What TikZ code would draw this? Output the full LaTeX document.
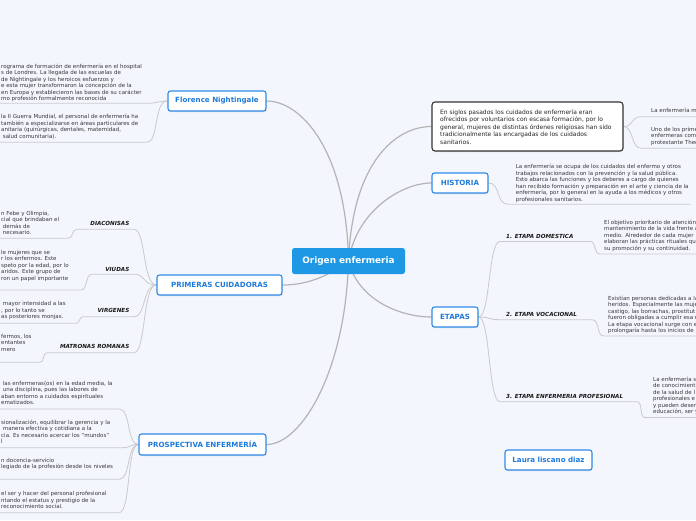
\documentclass[tikz,border=0pt]{standalone}
\usepackage{fontspec}
\setmainfont{DejaVu Sans}
\usetikzlibrary{shadows}
\definecolor{bgc}{HTML}{F3F6FD}
\definecolor{tblue}{HTML}{2E8BE8}
\definecolor{ttext}{HTML}{1E7AD9}
\definecolor{cblue}{HTML}{1E98E5}
\definecolor{lgray}{HTML}{B4B4B4}
\definecolor{sgray}{HTML}{CACACA}
\definecolor{tgray}{HTML}{383838}
\pgfdeclarelayer{bg}
\pgfdeclarelayer{background}
\pgfsetlayers{bg,background,main}
\begin{document}
\begin{tikzpicture}[x=1pt,y=-1pt,
  topic/.style={draw=tblue, line width=1.1pt, fill=white, rounded corners=2.5pt, text=ttext,
    font=\fontsize{7.1}{8}\selectfont\bfseries, inner sep=0pt, minimum height=20pt,
    drop shadow={opacity=0.22, shadow xshift=0.4pt, shadow yshift=-1.2pt}},
  central/.style={fill=cblue, text=white, rounded corners=2.5pt, font=\fontsize{8.9}{10}\selectfont\bfseries,
    minimum width=113pt, minimum height=26pt, inner sep=0pt},
  note/.style={draw=black!80, line width=1.1pt, fill=white, rounded corners=3pt, inner sep=0pt,
    drop shadow={opacity=0.22, shadow xshift=0.4pt, shadow yshift=-1.2pt}},
  txt/.style={anchor=north west, inner sep=0pt, align=left, font=\fontsize{5.5}{6.5}\selectfont, text=tgray},
  lbl/.style={inner sep=0pt, font=\fontsize{5.6}{6.5}\selectfont\bfseries\itshape, text=black!90},
  main/.style={draw=lgray, line width=1.2pt},
  sub/.style={draw=sgray, line width=0.8pt},
]
\useasboundingbox (0,0) rectangle (696,520);
\begin{pgfonlayer}{bg}
\fill[bgc] (0,0) rectangle (696,520);
\end{pgfonlayer}

% ---------- main nodes ----------
\node[central] (c) at (348.5,261) {Origen enfermeria};
\node[topic, minimum width=98pt] (fn) at (217,101) {Florence Nightingale};
\node[topic, minimum width=125pt] (pc) at (219.5,285) {PRIMERAS CUIDADORAS};
\node[topic, minimum width=127pt, minimum height=21pt] (pe) at (202.5,444.5) {PROSPECTIVA ENFERMERÍA};
\node[note, minimum width=191pt, minimum height=49pt] (bb) at (527.5,126.5) {};
\node[anchor=north west, inner sep=0pt, align=left, font=\fontsize{6.0}{7.5}\selectfont, text=black!85] (bbt) at (440,109)
  {En siglos pasados los cuidados de enfermería eran\\ ofrecidos por voluntarios con escasa formación, por lo\\ general, mujeres de distintas órdenes religiosas han sido\\ tradicionalmente las encargadas de los cuidados\\ sanitarios.};
\node[topic, minimum width=56pt] (h) at (460,183) {HISTORIA};
\node[topic, minimum width=46pt] (et) at (455,317) {ETAPAS};
\node[topic, minimum width=87pt] (lr) at (548.5,460) {Laura liscano diaz};

% ---------- Florence children ----------
\node[txt] (f1) at (1,63.4) {rograma de formación de enfermería en el hospital\\ s de Londres. La llegada de las escuelas de\\ de Nightingale y los heroicos esfuerzos y\\ e esta mujer transformaron la concepción de la\\ en Europa y establecieron las bases de su carácter\\ mo profesión formalmente reconocida};
\node[txt] (f2) at (1,114.1) {la II Guerra Mundial, el personal de enfermería ha\\ también a especializarse en áreas particulares de\\ anitaria (quirúrgicas, dentales, maternidad,\\ \ salud comunitaria).};
\coordinate (f1a) at (0,103.3); \coordinate (f1b) at (147,103.3);
\coordinate (f2a) at (0,142.3); \coordinate (f2b) at (147,142.3);

% ---------- Primeras cuidadoras children ----------
\node[lbl, anchor=base east] (ld) at (129.5,225.3) {DIACONISAS};
\node[lbl, anchor=base east] (lv) at (129.5,271) {VIUDAS};
\node[lbl, anchor=base east] (lg) at (129.5,312.7) {VIRGENES};
\node[lbl, anchor=base east] (lm) at (129.5,348.7) {MATRONAS ROMANAS};
\coordinate (lda) at (77,229.3);  \coordinate (ldb) at (134,229.3);
\coordinate (lva) at (92,274.2);  \coordinate (lvb) at (134,274.2);
\coordinate (lga) at (83,316.8);  \coordinate (lgb) at (134,316.8);
\coordinate (lma) at (47,352.8);  \coordinate (lmb) at (134,352.8);

\node[txt] (d1) at (1,210.7) {n Febe y Olimpia,\\ cial que brindaban el\\ \ demás de\\ \ necesario.};
\node[txt] (v1) at (1,249.7) {le mujeres que se\\ r los enfermos. Este\\ speto por la edad, por lo\\ aridos. Este grupo de\\ ron un papel importante};
\node[txt] (g1) at (1,301.4) {\ mayor intensidad a las\\ , por lo tanto se\\ as posteriores monjas.};
\node[txt] (m1) at (1,334.1) {fermos, los\\ entantes\\ mero};
\coordinate (d1a) at (0,238.3); \coordinate (d1b) at (68,238.3);
\coordinate (v1a) at (0,290);   \coordinate (v1b) at (81,290);
\coordinate (g1a) at (0,323.3); \coordinate (g1b) at (76,323.3);
\coordinate (m1a) at (0,362.3); \coordinate (m1b) at (40,362.3);

% ---------- Prospectiva children ----------
\node[txt] (p1) at (1,380.7) {\ las enfermeras(os) en la edad media, la\\ \ una disciplina, pues las labores de\\ aban entorno a cuidados espirituales\\ ematizados.};
\node[txt] (p2) at (1,419.7) {sionalización, equilibrar la gerencia y la\\ \ manera efectiva y cotidiana a la\\ cia. Es necesario acercar los "mundos"\\ l};
\node[txt] (p3) at (1,458.1) {n docencia-servicio\\ legiado de la profesión desde los niveles};
\node[txt] (p4) at (1,491.4) {el ser y hacer del personal profesional\\ ntando el estatus y prestigio de la\\ reconocimiento social.};
\coordinate (p1a) at (0,409);   \coordinate (p1b) at (119,409);
\coordinate (p2a) at (0,447.7); \coordinate (p2b) at (122,447.7);
\coordinate (p3a) at (0,479.3); \coordinate (p3b) at (119,479.3);
\coordinate (p4a) at (0,512.7); \coordinate (p4b) at (119,512.7);

% ---------- black note children ----------
\node[txt] (k1) at (651,108.1) {La enfermería m};
\node[txt] (k2) at (651,126.7) {Uno de los prime\\ enfermeras come\\ protestante Theo};
\coordinate (k1a) at (641,116.7); \coordinate (k1b) at (696,116.7);
\coordinate (k2a) at (641,148.3); \coordinate (k2b) at (696,148.3);

% ---------- historia child ----------
\node[txt] (h1) at (515.7,164.1) {La enfermería se ocupa de los cuidados del enfermo y otros\\ trabajos relacionados con la prevención y la salud pública.\\ Esto abarca las funciones y los deberes a cargo de quienes\\ han recibido formación y preparación en el arte y ciencia de la\\ enfermería, por lo general en la ayuda a los médicos y otros\\ profesionales sanitarios.};
\coordinate (h1a) at (508,204.3); \coordinate (h1b) at (690,204.3);

% ---------- etapas children ----------
\node[lbl, anchor=base west] (e1) at (506,238) {1. ETAPA DOMESTICA};
\node[lbl, anchor=base west] (e2) at (506,316) {2. ETAPA VOCACIONAL};
\node[lbl, anchor=base west] (e3) at (506,398) {3. ETAPA ENFERMERIA PROFESIONAL};
\coordinate (e1a) at (500,241.5); \coordinate (e1b) at (590,241.5);
\coordinate (e2a) at (500,319.7); \coordinate (e2b) at (592,319.7);
\coordinate (e3a) at (500,401.7); \coordinate (e3b) at (637,401.7);

\node[txt] (t1) at (604,219.4) {El objetivo prioritario de atención\\ mantenimiento de la vida frente a\\ medio. Alrededor de cada mujer\\ elaboran las prácticas rituales que\\ su promoción y su continuidad.};
\node[txt] (t2) at (608,295.4) {Existían personas dedicadas a la\\ heridos. Especialmente las muje\\ castigo, las borrachas, prostitut\\ fueron obligadas a cumplir esa r\\ La etapa vocacional surge con e\\ prolongaría hasta los inicios de};
\node[txt] (t3) at (653,376.4) {La enfermería s\\ de conocimient\\ de la salud de l\\ profesionales e\\ y pueden deser\\ educación, ser y};
\coordinate (t1a) at (600,254);   \coordinate (t1b) at (696,254);
\coordinate (t2a) at (604,336);   \coordinate (t2b) at (696,336);
\coordinate (t3a) at (645,417.5); \coordinate (t3b) at (696,417.5);

% ---------- connectors ----------
\begin{pgfonlayer}{background}
% main branches
\draw[main] (fn.east) .. controls +(35,0) and +(-2,-110) .. (c.center);
\draw[main] (bb.west) .. controls +(-35,0) and +(4,-100) .. (c.center);
\draw[main] (h.west) .. controls +(-30,0) and +(8,-50) .. (c.center);
\draw[main] (pc.east) .. controls +(25,0) and +(-20,15) .. (c.center);
\draw[main] (pe.east) .. controls +(35,0) and +(-3,110) .. (c.center);
\draw[main] (et.west) .. controls +(-30,0) and +(10,40) .. (c.center);
% florence
\draw[sub] (f1a) -- (f1b) .. controls +(10,0) and +(-9,0) .. (fn.west);
\draw[sub] (f2a) -- (f2b) .. controls +(12,0) and +(-14,0) .. (fn.west);
% primeras labels
\draw[sub] (lda) -- (ldb) .. controls +(12,0) and +(-14,0) .. (pc.west);
\draw[sub] (lva) -- (lvb) .. controls +(12,0) and +(-14,0) .. (pc.west);
\draw[sub] (lga) -- (lgb) .. controls +(12,0) and +(-14,0) .. (pc.west);
\draw[sub] (lma) -- (lmb) .. controls +(12,0) and +(-14,0) .. (pc.west);
\draw[sub] (d1a) -- (d1b) .. controls +(6,0) and +(-6,0) .. (lda);
\draw[sub] (v1a) -- (v1b) .. controls +(7,0) and +(-7,0) .. (lva);
\draw[sub] (g1a) -- (g1b) .. controls +(4,0) and +(-4,0) .. (lga);
\draw[sub] (m1a) -- (m1b) .. controls +(5,0) and +(-5,0) .. (lma);
% prospectiva
\draw[sub] (p1a) -- (p1b) .. controls +(12,0) and +(-12,0) .. (pe.west);
\draw[sub] (p2a) -- (p2b) .. controls +(10,0) and +(-10,0) .. (pe.west);
\draw[sub] (p3a) -- (p3b) .. controls +(12,0) and +(-12,0) .. (pe.west);
\draw[sub] (p4a) -- (p4b) .. controls +(12,0) and +(-12,0) .. (pe.west);
% note
\draw[sub] (bb.east) .. controls +(10,0) and +(-10,0) .. (k1a) -- (k1b);
\draw[sub] (bb.east) .. controls +(10,0) and +(-10,0) .. (k2a) -- (k2b);
% historia
\draw[sub] (h.east) .. controls +(12,0) and +(-12,0) .. (h1a) -- (h1b);
% etapas
\draw[sub] (et.east) .. controls +(12,0) and +(-12,0) .. (e1a) -- (e1b) .. controls +(7,0) and +(-7,0) .. (t1a) -- (t1b);
\draw[sub] (et.east) .. controls +(12,0) and +(-12,0) .. (e2a) -- (e2b) .. controls +(8,0) and +(-8,0) .. (t2a) -- (t2b);
\draw[sub] (et.east) .. controls +(12,0) and +(-12,0) .. (e3a) -- (e3b) .. controls +(6,0) and +(-6,0) .. (t3a) -- (t3b);
\end{pgfonlayer}
\end{tikzpicture}
\end{document}
